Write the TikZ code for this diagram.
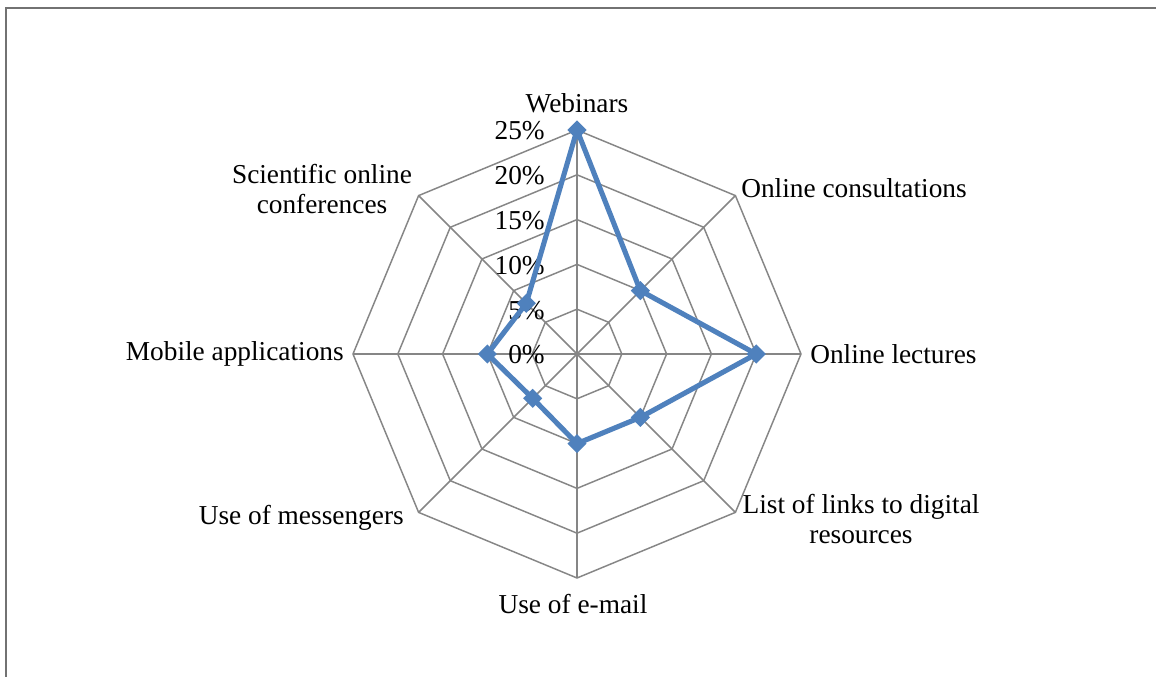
\documentclass[tikz,border=0pt]{standalone}
\usepackage{fontspec}
\setmainfont{Liberation Serif}
\usetikzlibrary{shapes.geometric,calc}
\definecolor{gridgray}{RGB}{134,134,134}
\definecolor{serblue}{RGB}{79,129,189}
\tikzset{
  gridline/.style={draw=gridgray, line width=1.1pt},
  frameline/.style={draw=gridgray!85!black, line width=1.5pt},
  serline/.style={draw=serblue, line width=3.8pt, line join=round},
  marker/.style={diamond, fill=serblue, inner sep=0pt, minimum width=14.5pt, minimum height=14.5pt},
  lbl/.style={font=\fontsize{20.5}{23}\selectfont, inner sep=0pt, align=center},
}
\begin{document}
\begin{tikzpicture}[x=0.75pt,y=0.75pt]
\useasboundingbox (0,0) rectangle (1156,677);
\fill[white] (0,0) rectangle (1156,677);
\coordinate (c) at (577,323);
% frame (only top and left edges fall inside the picture)
\coordinate (fTL) at (6,669);
\coordinate (fTR) at (1160,669);
\coordinate (fBL) at (6,-4);
\draw[frameline] (fTR) -- (fTL) -- (fBL);
% grid rings
\foreach \k in {1,...,5}{
  \draw[gridline] ($(c)+(90:44.8*\k)$) \foreach \a in {45,0,-45,-90,-135,-180,-225}{ -- ($(c)+(\a:44.8*\k)$)} -- cycle;
}
% spokes
\foreach \a in {90,45,0,-45,-90,-135,-180,-225}{
  \draw[gridline] (c) -- ($(c)+(\a:224)$);
}
% axis labels
\foreach \k/\t in {0/0\%,1/5\%,2/10\%,3/15\%,4/20\%,5/25\%}{
  \node[lbl, anchor=east] (ax\k) at (545,{323+44.8*\k-1}) {\t};
}
% data points (radius per percent = 8.96)
\coordinate (p1) at ($(c)+(90:{25*8.96})$);
\coordinate (p2) at ($(c)+(45:{10*8.96})$);
\coordinate (p3) at ($(c)+(0:{20*8.96})$);
\coordinate (p4) at ($(c)+(-45:{10*8.96})$);
\coordinate (p5) at ($(c)+(-90:{10*8.96})$);
\coordinate (p6) at ($(c)+(-135:{7*8.96})$);
\coordinate (p7) at ($(c)+(180:{10*8.96})$);
\coordinate (p8) at ($(c)+(135:{8*8.96})$);
\draw[serline] (p1) -- (p2) -- (p3) -- (p4) -- (p5) -- (p6) -- (p7) -- (p8) -- cycle;
\foreach \i in {1,...,8}{ \node[marker] (m\i) at (p\i) {}; }
% category labels
\node[lbl] (webinars) at (577,574) {Webinars};
\node[lbl, anchor=west] (consult) at (741,489) {Online consultations};
\node[lbl, anchor=west] (lectures) at (810,323) {Online lectures};
\node[lbl] (links) at (861,158) {List of links to digital\\resources};
\node[lbl] (email) at (573,73) {Use of e-mail};
\node[lbl, anchor=east] (messengers) at (404,159) {Use of messengers};
\node[lbl, anchor=east] (mobile) at (344,323) {Mobile applications};
\node[lbl] (scientific) at (322,488) {Scientific online\\conferences};
\end{tikzpicture}
\end{document}
